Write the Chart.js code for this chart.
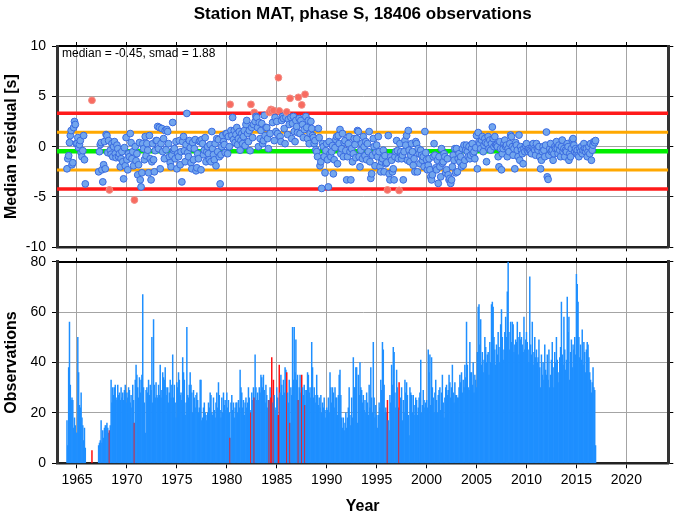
<!DOCTYPE html>
<html>
<head>
<meta charset="utf-8">
<script src="https://cdn.jsdelivr.net/npm/chart.js@4.4.1/dist/chart.umd.min.js"></script>
<style>
  body { margin: 0; background: #fff; }
  #wrap { position: relative; width: 674px; height: 511px; }
  #top { position: absolute; left: 0; top: 0; }
  #bottom { position: absolute; left: 0; top: 255px; }
</style>
</head>
<body>
<div id="wrap">
  <canvas id="top" width="674" height="255"></canvas>
  <canvas id="bottom" width="674" height="256"></canvas>
</div>
<script>
/* ---------- data (monthly, Jan..Dec for every year) ---------- */
const years = [];
for (let y = 1964; y <= 2016; y++) years.push(y);

const medianRes = -0.45;
const smad = 1.88;
const titleText = "Station MAT, phase S, 18406 observations";
const xTicks = [1965, 1970, 1975, 1980, 1985, 1990, 1995, 2000, 2005, 2010, 2015, 2020];
const resTicks = [-10, -5, 0, 5, 10];
const obsTicks = [0, 20, 40, 60, 80];

const n = null;
/* median residual per month [s] */
const residuals = [
  -2.2, -1.2, -0.9, 0.4, 1.1, 1.6, -1.8, -1.6, 1.9, 2.5, 2.2, 0.3,      // 1964
  0.3, 0.9, -0.1, 0.2, 0.6, -0.6, -1.0, -0.4, 1.1, -1.3, -3.7, n,       // 1965
  n, n, n, n, n, n, 4.6, n, n, n, n, n,                                 // 1966
  n, n, -2.5, -0.5, 0.2, 0.4, -2.3, -3.5, -1.8, 0.5, -2.2, 1.2,         // 1967
  1.1, -0.6, 0.6, -4.3, -0.35, -0.75, 0.3, -1.0, 0.0, 0.5, -0.7, -1.1,  // 1968
  0.15, -0.2, -1.0, -0.7, -2.0, -1.2, -0.5, -1.5, -3.2, -0.1, -1.9, 0.9,// 1969
  -1.3, -2.3, -0.7, -1.0, 1.3, 0.4, -1.2, -0.5, -1.9, -5.3, 0.0, -1.4,  // 1970
  -0.7, -2.8, -1.8, 0.4, -3.3, -4.0, -2.6, 0.3, -0.2, -1.3, 1.0, -0.9,  // 1971
  0.3, -0.35, -2.6, 1.1, -1.2, -3.3, -1.5, 0.3, -1.3, -2.5, -0.4, 0.6,  // 1972
  0.6, 2.0, -0.2, 1.9, -2.2, 0.3, 1.8, -0.5, 0.8, -1.2, 1.6, -0.3,      // 1973
  1.7, 1.5, 0.3, -1.0, -1.6, -2.0, -0.85, 2.4, -0.35, -0.2, -1.2, 0.5,  // 1974
  -2.2, -0.7, -1.0, 0.6, -1.8, -0.5, -3.5, 0.5, 1.0, -0.4, -1.5, 0.2,   // 1975
  3.3, -0.6, -1.0, 0.6, -0.1, -1.6, -2.2, 0.4, -1.3, -0.2, 0.7, -2.4,   // 1976
  -2.1, -0.7, -1.2, 0.5, 0.6, -2.3, 0.7, 0.3, -0.8, -0.35, 0.9, -1.5,   // 1977
  -0.5, 0.0, -0.7, -1.3, 0.2, -1.5, 1.5, -0.2, -0.8, -1.3, 0.3, -1.9,   // 1978
  0.8, -0.5, 0.7, -1.0, -3.7, -0.8, 0.0, 1.1, 0.5, 0.2, -0.6, 1.3,      // 1979
  1.3, -0.7, 1.0, 0.0, 4.2, 1.6, 1.1, 2.9, 0.7, 1.6, 0.4, 1.2,          // 1980
  1.9, 0.2, 0.8, 1.5, -0.35, 0.6, 1.3, 0.3, 1.0, 1.6, 0.1, 2.2,         // 1981
  2.6, 1.3, 0.5, 1.6, -0.4, 4.2, 1.9, 0.9, 2.2, 3.4, 2.5, 3.0,          // 1982
  2.9, 1.9, 0.0, 2.4, 0.8, 1.6, 2.3, 0.3, 0.6, 3.1, 1.1, 1.9,           // 1983
  1.9, 0.8, -0.2, 3.4, 1.3, 3.7, 3.5, 2.4, 3.6, 0.6, 2.9, 1.5,          // 1984
  2.5, 1.3, 6.85, 3.55, 1.0, 0.5, 2.6, 3.0, 2.8, 1.8, 0.3, 2.9,         // 1985
  3.45, 1.2, 2.7, 2.2, 4.8, 2.9, 0.8, 2.3, 3.0, 1.5, 0.5, 2.6,          // 1986
  2.0, 1.4, 4.9, 2.8, 1.3, 2.6, 4.15, 2.2, 0.9, 1.7, 5.2, 3.0,          // 1987
  1.9, 0.8, 2.6, 0.3, 1.3, 2.5, 1.8, 1.1, 0.9, 0.3, 0.6, -0.3,          // 1988
  -0.5, -1.0, 1.8, 0.9, -1.9, -1.5, -4.15, 0.3, 0.0, -1.0, -2.6, -0.4,  // 1989
  0.3, -1.3, -4.0, 0.5, -0.7, -1.0, -0.5, 0.1, -2.7, -1.3, -0.1, 0.7,   // 1990
  1.0, -1.7, 1.1, 0.3, 1.7, -0.7, -0.2, 1.3, -1.0, 0.4, 0.6, -0.4,      // 1991
  -3.3, -1.0, 0.3, 1.0, -0.5, -3.3, -0.2, -1.5, -0.7, 0.8, 0.2, -1.1,   // 1992
  0.8, 1.6, 1.5, -1.0, -2.0, -0.35, 0.3, -1.2, 1.0, 0.0, -0.9, 0.5,     // 1993
  -1.3, 0.3, -0.5, 1.5, -1.5, -3.15, -2.7, -0.85, 0.8, 0.0, -1.9, -0.6, // 1994
  0.15, -1.0, 1.0, -0.5, -2.0, -2.5, -1.5, -1.2, -0.35, -2.5, -0.9, -1.7, // 1995
  -1.6, -4.3, 1.1, -2.7, -3.3, -1.0, -1.35, -2.5, -2.2, -3.3, -1.0, -0.5, // 1996
  0.6, -0.4, -1.2, -4.35, 0.3, -0.5, -1.2, -0.85, -3.3, -0.5, 0.6, 0.15,  // 1997
  1.1, -1.35, 1.6, -0.35, -1.5, -0.85, 0.3, -0.5, -1.85, -1.2, -2.5, 0.5, // 1998
  0.3, -2.5, -0.2, -0.7, -1.7, -0.35, -0.85, -1.35, -1.0, -2.0, 1.5, -0.6, // 1999
  -1.3, -2.3, -1.85, -1.2, -2.3, -3.0, -3.3, -2.8, -1.0, 0.3, -0.85, -2.1, // 2000
  -2.3, -1.35, -3.65, -1.0, -2.0, -3.0, -0.2, -1.65, -1.5, -0.7, -1.0, -2.6, // 2001
  -2.3, -1.2, -2.8, -3.3, -3.15, -3.65, -3.3, -2.0, -0.85, -1.35, -0.2, -2.6, // 2002
  -0.2, -2.5, -1.2, -0.7, -1.5, -1.0, -2.0, -0.2, -1.85, 0.15, -1.35, -0.35, // 2003
  0.15, -0.5, -1.0, 0.0, -1.2, -0.85, -0.2, 0.3, -0.7, -0.5, -1.2, -0.1,  // 2004
  1.1, -2.2, 1.4, 0.5, 0.3, -0.2, 0.65, 1.0, -0.5, 0.15, 0.8, 0.4,        // 2005
  -1.5, 0.3, 1.0, -0.2, 0.65, -0.35, 0.3, 1.95, 0.8, 0.0, 1.0, 0.2,       // 2006
  0.15, 0.0, -1.0, -2.0, 0.5, -0.2, -2.3, -0.7, -0.2, 0.3, 0.65, 0.0,     // 2007
  0.15, -1.0, -0.2, -0.5, 0.3, 1.15, 1.0, 0.0, -0.85, -0.2, -2.2, 0.4,    // 2008
  0.15, -0.35, -1.0, 1.15, -1.35, 0.0, -0.35, -0.7, -1.7, -0.2, -0.5, 0.1, // 2009
  0.3, -0.35, -0.5, -0.2, -0.35, -0.5, -0.7, 0.0, 0.3, -0.2, -0.35, -0.85, // 2010
  0.3, -0.2, -0.35, 0.0, -1.0, -2.2, -1.35, -0.5, 0.0, -0.35, -1.0, 0.15, // 2011
  1.45, -3.0, -3.25, -0.85, -0.2, 0.3, -0.5, -0.35, -1.35, -0.7, 0.0, -0.2, // 2012
  0.5, -0.2, -0.7, 0.15, -0.35, -1.0, 0.0, 0.65, -0.5, -0.2, -1.0, -0.35, // 2013
  -0.5, 0.3, 0.0, -1.35, -0.7, -1.0, -0.2, 0.65, 0.8, 0.15, -0.5, -0.2,   // 2014
  -0.7, -0.35, -0.85, -1.0, -0.2, -0.5, 0.0, -0.7, -0.35, 0.3, -0.2, -0.5, // 2015
  -0.2, -1.0, -0.5, 0.0, -0.7, 0.3, -1.35, -0.35, 0.15, 0.5, 0.4, 0.6     // 2016
];

/* number of observations per month */
const obsCounts = [
  17, 7, 38, 56, 31, 25, 26, 25, 14, 18, 15, 12,   // 1964
  12, 50, 36, 23, 22, 28, 18, 15, 9, 14, 6, n,     // 1965
  n, n, n, n, n, n, 5, n, n, n, n, n,              // 1966
  n, n, 7, 8, 9, 17, 8, 13, 10, 14, 15, 15,        // 1967
  16, 14, 12, 13, 15, 33, 24, 30, 27, 30, 31, 26,  // 1968
  25, 31, 27, 28, 25, 30, 26, 28, 25, 29, 31, 24,  // 1969
  28, 26, 30, 29, 24, 27, 22, 31, 25, 16, 33, 39,  // 1970
  35, 30, 26, 34, 28, 33, 35, 67, 30, 24, 12, 29,  // 1971
  30, 28, 33, 27, 31, 29, 50, 24, 57, 31, 26, 32,  // 1972
  27, 26, 31, 27, 39, 26, 29, 36, 34, 33, 38, 30,  // 1973
  27, 30, 24, 28, 33, 26, 31, 43, 26, 31, 24, 18,  // 1974
  32, 30, 36, 33, 27, 28, 25, 42, 36, 33, 19, 24,  // 1975
  54, 27, 26, 31, 36, 31, 28, 20, 29, 26, 22, 27,  // 1976
  28, 25, 20, 22, 33, 33, 17, 18, 22, 24, 20, 19,  // 1977
  17, 20, 24, 22, 28, 27, 20, 19, 26, 21, 18, 24,  // 1978
  28, 22, 32, 27, 21, 18, 26, 20, 28, 23, 25, 21,  // 1979
  28, 22, 25, 20, 10, 24, 27, 21, 24, 18, 22, 24,  // 1980
  24, 20, 25, 22, 37, 30, 28, 22, 25, 19, 24, 26,  // 1981
  22, 24, 30, 26, 21, 20, 28, 25, 30, 26, 43, 30,  // 1982
  25, 28, 25, 30, 28, 35, 34, 30, 35, 29, 24, 31,  // 1983
  27, 22, 25, 25, 30, 26, 42, 24, 33, 27, 21, 22,  // 1984
  30, 26, 19, 39, 28, 35, 31, 27, 33, 28, 38, 37,  // 1985
  36, 28, 24, 33, 16, 30, 27, 54, 33, 54, 36, 49,  // 1986
  33, 35, 25, 30, 35, 28, 35, 30, 27, 31, 23, 29,  // 1987
  29, 36, 35, 28, 30, 26, 48, 38, 26, 30, 27, 24,  // 1988
  35, 27, 23, 26, 22, 27, 20, 24, 22, 26, 21, 18,  // 1989
  22, 21, 26, 20, 36, 30, 24, 30, 28, 22, 30, 26,  // 1990
  26, 19, 27, 35, 37, 27, 18, 14, 18, 13, 16, 20,  // 1991
  14, 18, 22, 30, 19, 15, 26, 18, 42, 30, 30, 38,  // 1992
  38, 16, 35, 27, 40, 30, 29, 24, 27, 21, 25, 20,  // 1993
  28, 24, 19, 31, 22, 38, 26, 20, 48, 26, 18, 23,  // 1994
  19, 14, 19, 24, 22, 33, 29, 48, 45, 31, 20, 22,  // 1995
  20, 25, 17, 13, 27, 24, 39, 31, 46, 44, 28, 22,  // 1996
  37, 30, 22, 32, 21, 26, 30, 17, 25, 20, 33, 28,  // 1997
  32, 27, 19, 11, 30, 28, 27, 20, 27, 23, 19, 26,  // 1998
  25, 19, 22, 26, 28, 41, 20, 23, 29, 25, 22, 24,  // 1999
  25, 22, 45, 36, 43, 23, 42, 30, 26, 20, 28, 33,  // 2000
  25, 20, 27, 29, 30, 21, 28, 35, 24, 18, 26, 30,  // 2001
  31, 27, 29, 35, 32, 26, 30, 39, 28, 24, 32, 27,  // 2002
  27, 26, 26, 30, 35, 32, 36, 28, 33, 30, 39, 34,  // 2003
  56, 39, 30, 29, 48, 36, 36, 31, 40, 28, 35, 33,  // 2004
  30, 44, 62, 63, 47, 57, 39, 44, 36, 41, 50, 46,  // 2005
  40, 43, 44, 35, 48, 40, 63, 64, 62, 50, 45, 39,  // 2006
  47, 43, 52, 46, 40, 55, 61, 50, 41, 45, 52, 58,  // 2007
  50, 68, 80, 52, 45, 56, 48, 56, 55, 44, 47, 49,  // 2008
  48, 56, 43, 50, 52, 49, 50, 47, 44, 58, 45, 49,  // 2009
  52, 48, 45, 40, 74, 47, 43, 56, 39, 44, 50, 42,  // 2010
  45, 40, 42, 49, 38, 30, 43, 35, 40, 33, 47, 37,  // 2011
  35, 43, 33, 45, 30, 35, 41, 48, 38, 30, 44, 40,  // 2012
  50, 41, 36, 32, 42, 46, 64, 43, 39, 58, 45, 37,  // 2013
  41, 66, 52, 58, 33, 44, 49, 38, 47, 45, 50, 43,  // 2014
  75, 71, 64, 50, 42, 47, 41, 53, 39, 48, 44, 36,  // 2015
  45, 48, 47, 42, 36, 33, 28, 32, 38, 30, 29, 7    // 2016
];

/* ---------- helpers ---------- */
const FONT = "'Liberation Sans', Arial, Helvetica, sans-serif";
const X_MIN = 1963, X_MAX = 2024.2;
const upper = medianRes + 2 * smad;
const lower = medianRes - 2 * smad;

// decimal year of every month
const monthX = [];
years.forEach((y) => { for (let m = 0; m < 12; m++) monthX.push(y + m / 12); });

const isOutlier = (v) => v > upper || v < lower;

const resPoints = [];
const obsBars = [];
monthX.forEach((x, i) => {
  if (residuals[i] !== null) resPoints.push({ x: x, y: residuals[i] });
  if (obsCounts[i] !== null) obsBars.push({ x: x, y: obsCounts[i], out: residuals[i] !== null && isOutlier(residuals[i]) });
});

let hline = (v, color, width) => ({
  type: "line",
  data: [{ x: X_MIN, y: v }, { x: X_MAX, y: v }],
  borderColor: color,
  borderWidth: width,
  pointRadius: 0,
  order: 2,
});

const setTicks = (list) => (scale) => { scale.ticks = list.map((v) => ({ value: v })); };
// fixed axis sizes, and no extra padding from overhanging labels
const fixH = (h) => (scale) => { scale.height = h; scale.paddingLeft = 0; scale.paddingRight = 0; };
const fixW = (w) => (scale) => { scale.width = w; scale.paddingTop = 0; scale.paddingBottom = 0; };
const plain = (v) => String(v);

const gridCol = "#a4a4a4";

/* annotation text in the upper panel */
const note = {
  id: "note",
  afterDraw(chart) {
    const c = chart.ctx;
    c.save();
    c.font = "12px " + FONT;
    c.fillStyle = "#000";
    c.textBaseline = "middle";
    c.fillText("median = " + medianRes.toFixed(2) + ", smad = " + smad.toFixed(2), 62, 54);
    c.restore();
  },
};

/*--------------------UPPER PANEL: residuals------------------------*/
new Chart(document.getElementById("top"), {
  type: "scatter",
  data: {
    datasets: [
      {
        data: resPoints,
        pointRadius: 3.4,
        pointBorderWidth: 1,
        pointBackgroundColor: (ctx) => (ctx.raw && isOutlier(ctx.raw.y) ? "#f86b60" : "#72a6ee"),
        pointBorderColor: (ctx) => (ctx.raw && isOutlier(ctx.raw.y) ? "#f38b82" : "#3a6be0"),
        order: 1,
      },
      hline(upper, "#ff1a1a", 3.5),
      hline(lower, "#ff1a1a", 3.5),
      hline(medianRes + smad, "#ffa800", 3),
      hline(medianRes - smad, "#ffa800", 3),
      hline(medianRes, "#00ee00", 4.5),
    ],
  },
  options: {
    responsive: false,
    animation: false,
    layout: { padding: 0 },
    plugins: {
      legend: { display: false },
      tooltip: { enabled: false },
      title: {
        display: true,
        text: titleText,
        fullSize: false,
        color: "#000",
        font: { family: FONT, size: 17, weight: "bold" },
        padding: { top: 4, bottom: 0 },
      },
    },
    scales: {
      x: {
        type: "linear", position: "bottom", min: X_MIN, max: X_MAX,
        afterBuildTicks: setTicks(xTicks), afterFit: fixH(255 - 247.3),
        ticks: { display: false },
        grid: { color: gridCol, tickColor: "#000", tickLength: 4 },
        border: { color: "#222", width: 2.5 },
      },
      x2: {
        type: "linear", position: "top", min: X_MIN, max: X_MAX,
        afterBuildTicks: setTicks(xTicks), afterFit: fixH(46 - 24.4),
        ticks: { display: false },
        grid: { drawOnChartArea: false, tickColor: "#000", tickLength: 4 },
        border: { color: "#000", width: 2 },
      },
      y: {
        type: "linear", position: "left", min: -10, max: 10,
        afterBuildTicks: setTicks(resTicks), afterFit: fixW(57),
        ticks: { color: "#000", padding: 6, font: { family: FONT, size: 14 }, callback: plain },
        grid: { color: gridCol, tickColor: "#000", tickLength: 5 },
        border: { color: "#333", width: 3 },
        title: {
          display: true, text: "Median residual [s]", color: "#000",
          font: { family: FONT, size: 16, weight: "bold" }, padding: { top: 2, bottom: 0 },
        },
      },
      y2: {
        type: "linear", position: "right", min: -10, max: 10,
        afterBuildTicks: setTicks(resTicks), afterFit: fixW(674 - 668.3),
        ticks: { display: false },
        grid: { drawOnChartArea: false, tickColor: "#000", tickLength: 5 },
        border: { color: "#333", width: 3 },
      },
    },
  },
  plugins: [note],
});

/*--------------------LOWER PANEL: observations------------------------*/
new Chart(document.getElementById("bottom"), {
  type: "bar",
  data: {
    datasets: [
      {
        data: obsBars,
        backgroundColor: (ctx) => (ctx.raw && ctx.raw.out ? "#ff1010" : "#1e8fff"),
        borderWidth: 0,
        barPercentage: 1,
        categoryPercentage: 1,
      },
    ],
  },
  options: {
    responsive: false,
    animation: false,
    layout: { padding: 0 },
    plugins: { legend: { display: false }, tooltip: { enabled: false } },
    scales: {
      x: {
        type: "linear", position: "bottom", min: X_MIN, max: X_MAX, offset: false,
        afterBuildTicks: setTicks(xTicks), afterFit: fixH(256 - 208.3),
        ticks: { color: "#000", padding: 3, maxRotation: 0, font: { family: FONT, size: 14 }, callback: plain },
        grid: { color: gridCol, tickColor: "#000", tickLength: 5, offset: false },
        border: { color: "#222", width: 2.5 },
        title: {
          display: true, text: "Year", color: "#000",
          font: { family: FONT, size: 16, weight: "bold" }, padding: { top: 0, bottom: -5 },
        },
      },
      x2: {
        type: "linear", position: "top", min: X_MIN, max: X_MAX, offset: false,
        afterBuildTicks: setTicks(xTicks), afterFit: fixH(6.7),
        ticks: { display: false },
        grid: { drawOnChartArea: false, tickColor: "#000", tickLength: 4, offset: false },
        border: { color: "#000", width: 2 },
      },
      y: {
        type: "linear", position: "left", min: 0, max: 80,
        afterBuildTicks: setTicks(obsTicks), afterFit: fixW(57),
        ticks: { color: "#000", padding: 6, font: { family: FONT, size: 14 }, callback: plain },
        grid: { color: gridCol, tickColor: "#000", tickLength: 5 },
        border: { color: "#333", width: 3 },
        title: {
          display: true, text: "Observations", color: "#000",
          font: { family: FONT, size: 16, weight: "bold" }, padding: { top: 2, bottom: 0 },
        },
      },
      y2: {
        type: "linear", position: "right", min: 0, max: 80,
        afterBuildTicks: setTicks(obsTicks), afterFit: fixW(674 - 668.3),
        ticks: { display: false },
        grid: { drawOnChartArea: false, tickColor: "#000", tickLength: 5 },
        border: { color: "#333", width: 3 },
      },
    },
  },
});
</script>
</body>
</html>
